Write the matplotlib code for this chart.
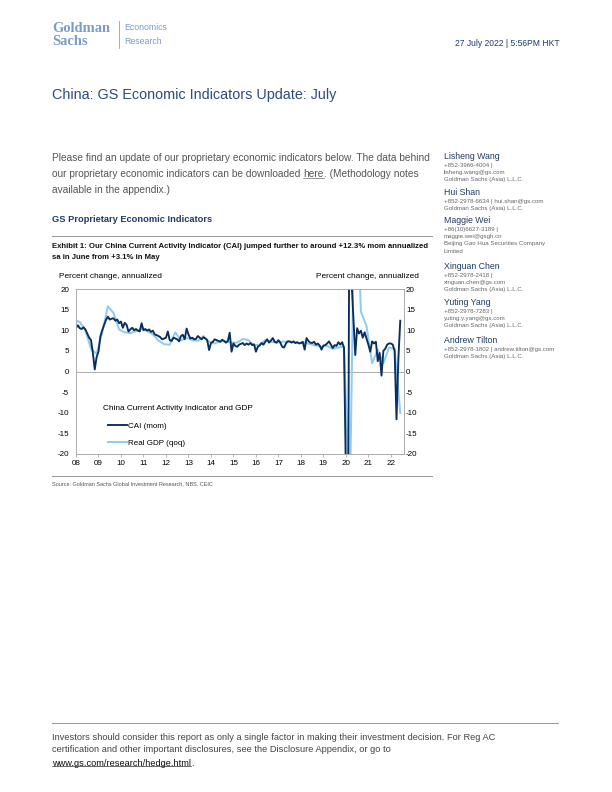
import numpy as np
import matplotlib
matplotlib.use('Agg')
import matplotlib.pyplot as plt

# CAI, monthly, percent change annualized (Jan 2008 - Jun 2022)
cai_2008 = [10.6, 11.2, 10.5, 10.3, 10.7, 10.2, 9.2, 8.2, 7.6, 4.5, 0.5, 3.5]
cai_2009 = [4.8, 8.5, 10.0, 11.3, 12.5, 13.3, 12.6, 12.8, 12.9, 12.3, 12.6, 11.7]
cai_2010 = [12.1, 10.6, 11.8, 11.3, 9.7, 10.2, 10.6, 10.0, 10.3, 9.9, 9.7, 11.7]
cai_2011 = [10.0, 10.3, 9.9, 10.2, 9.6, 9.9, 9.0, 8.8, 8.6, 8.3, 7.8, 8.0]
cai_2012 = [8.2, 9.7, 7.6, 7.4, 8.2, 8.0, 7.8, 7.3, 8.6, 8.9, 7.8, 10.4]
cai_2013 = [9.0, 8.0, 8.2, 7.8, 7.9, 8.6, 8.2, 7.8, 8.3, 8.0, 7.6, 5.2]
cai_2014 = [6.9, 7.2, 7.8, 7.6, 7.4, 7.2, 7.7, 7.4, 7.0, 7.4, 9.4, 4.8]
cai_2015 = [6.8, 6.2, 6.0, 6.5, 6.7, 6.9, 6.4, 6.8, 6.5, 6.9, 6.4, 6.6]
cai_2016 = [4.8, 6.0, 6.3, 6.9, 6.5, 7.2, 7.8, 7.0, 7.5, 8.1, 7.2, 7.0]
cai_2017 = [7.6, 7.0, 6.0, 5.8, 6.8, 7.3, 7.3, 7.0, 7.3, 6.9, 7.1, 6.8]
cai_2018 = [6.9, 7.2, 5.3, 8.1, 7.4, 7.0, 6.9, 7.2, 6.5, 6.8, 6.3, 5.3]
cai_2019 = [6.3, 6.4, 6.8, 7.3, 6.5, 5.7, 6.4, 6.2, 7.1, 6.5, 7.1, 5.7]
cai_2020 = [-25.0, -60.0, 60.0, 22.0, 13.0, 4.0, 10.5, 9.2, 9.9, 8.2, 9.5, 8.0]
cai_2021 = [6.5, 4.8, 7.3, 6.8, 7.2, 2.5, 4.5, -1.0, 5.0, 5.5, 6.5, 6.8]
cai_2022 = [6.8, 6.5, 5.0, -11.6, 3.1, 12.3]

# Real GDP, quarterly qoq annualized (Q4 2007 - Q2 2022)
gdp_2007 = [12.5]
gdp_2008 = [12.0, 10.0, 5.5, 4.3]
gdp_2009 = [9.5, 15.8, 14.2, 10.2]
gdp_2010 = [9.5, 9.3, 9.8, 10.4]
gdp_2011 = [9.8, 9.0, 7.5, 6.6]
gdp_2012 = [6.5, 9.5, 7.5, 8.2]
gdp_2013 = [7.6, 7.4, 8.6, 7.2]
gdp_2014 = [6.8, 7.4, 7.3, 7.0]
gdp_2015 = [7.0, 7.9, 7.6, 6.3]
gdp_2016 = [6.5, 7.6, 7.2, 7.0]
gdp_2017 = [7.2, 7.3, 7.1, 6.9]
gdp_2018 = [7.0, 6.6, 6.3, 6.0]
gdp_2019 = [6.2, 5.5, 5.8, 6.1]
gdp_2020 = [-35.0, 55.0, 14.5, 11.0]
gdp_2021 = [2.0, 5.3, 2.0, 5.8]
gdp_2022 = [5.5, -10.0]

years = list(range(2008, 2023))
year_labels = ['%02d' % (y % 100) for y in years]

cai = np.array(cai_2008 + cai_2009 + cai_2010 + cai_2011 + cai_2012 + cai_2013 + cai_2014
               + cai_2015 + cai_2016 + cai_2017 + cai_2018 + cai_2019 + cai_2020 + cai_2021 + cai_2022)
gdp = np.array(gdp_2007 + gdp_2008 + gdp_2009 + gdp_2010 + gdp_2011 + gdp_2012 + gdp_2013 + gdp_2014
               + gdp_2015 + gdp_2016 + gdp_2017 + gdp_2018 + gdp_2019 + gdp_2020 + gdp_2021 + gdp_2022)
cai_x = 2008 + np.arange(len(cai)) / 12.0
gdp_x = 2007 + 11 / 12.0 + np.arange(len(gdp)) * 0.25

plt.rcParams['axes.unicode_minus'] = False
SANS = ['Liberation Sans', 'DejaVu Sans']

W, H = 612, 792
fig = plt.figure(figsize=(W / 72, H / 72), dpi=72)
fig.patch.set_facecolor('white')


def txt(x, y, s, **kw):
    kw.setdefault('va', 'center')
    kw.setdefault('family', SANS)
    return fig.text(x / W, 1 - y / H, s, **kw)


def hline(x0, x1, y, color='#9A9A9A', lw=1.0):
    fig.add_artist(plt.Line2D([x0 / W, x1 / W], [1 - y / H, 1 - y / H], color=color, lw=lw))


navy = '#1F3B63'
grey_txt = '#555555'
logo_blue = '#7A9CC6'

# header
txt(52, 28, 'Goldman', family=['Liberation Serif'], weight='bold', size=14.5, color=logo_blue)
txt(52, 41.5, 'Sachs', family=['Liberation Serif'], weight='bold', size=14.5, color=logo_blue)
fig.add_artist(plt.Line2D([119 / W, 119 / W], [1 - 21 / H, 1 - 48 / H], color=logo_blue, lw=0.8))
txt(124, 28, 'Economics', size=8.7, color=logo_blue)
txt(124, 41.5, 'Research', size=8.7, color=logo_blue)
txt(560, 44, '27 July 2022 | 5:56PM HKT', size=8.5, color=navy, ha='right')

txt(52, 95, 'China: GS Economic Indicators Update: July', size=14.4, color='#2B4C7E')

# body paragraph
body_kw = dict(family=SANS, size=10.1, color=grey_txt)
txt(52, 158, 'Please find an update of our proprietary economic indicators below. The data behind', **body_kw)
t1 = txt(52, 174, 'our proprietary economic indicators can be downloaded ', **body_kw)
txt(52, 190, 'available in the appendix.)', **body_kw)

fig.canvas.draw()
r = fig.canvas.get_renderer()
bb = t1.get_window_extent(r)
t2 = fig.text(bb.x1 / W, 1 - 174 / H, 'here', va='center', **body_kw)
bb2 = t2.get_window_extent(r)
fig.add_artist(plt.Line2D([bb2.x0 / W, bb2.x1 / W], [(bb2.y0 + 1.5) / H] * 2, color=grey_txt, lw=0.6))
fig.text(bb2.x1 / W, 1 - 174 / H, '. (Methodology notes', va='center', **body_kw)

txt(52, 219, 'GS Proprietary Economic Indicators', weight='bold', size=9.3, color=navy)
hline(52, 432, 236)
cap_kw = dict(weight='bold', size=7.8, color='#111111')
txt(52, 246, 'Exhibit 1: Our China Current Activity Indicator (CAI) jumped further to around +12.3% mom annualized', **cap_kw)
txt(52, 257.5, 'sa in June from +3.1% in May', **cap_kw)

# chart
ax = fig.add_axes([76 / W, 1 - 454 / H, 328 / W, 165 / H])
l_gdp, = ax.plot(gdp_x, gdp, color='#8FCBF5', lw=2.0, solid_joinstyle='round')
l_cai, = ax.plot(cai_x, cai, color='#0A2F5C', lw=1.9, solid_joinstyle='round')
ax.set_xlim(2008, 2022 + 7 / 12.0)
ax.set_ylim(-20, 20)
ax.axhline(0, color='#A6A6A6', lw=0.9, zorder=0)
for s in ax.spines.values():
    s.set_color('#A6A6A6')
    s.set_linewidth(0.9)
ax.set_xticks(years)
ax.set_xticklabels(year_labels)
ax.set_yticks(np.arange(-20, 21, 5))
ax.tick_params(axis='x', direction='out', length=3, color='#A6A6A6', labelsize=8, pad=3)
ax.tick_params(axis='y', length=0, labelsize=8, pad=7)
for lab in ax.get_xticklabels() + ax.get_yticklabels():
    lab.set_family(SANS)

ax2 = ax.twinx()
ax2.set_ylim(-20, 20)
ax2.set_yticks(np.arange(-20, 21, 5))
ax2.tick_params(axis='y', length=0, labelsize=8, pad=2)
for s in ax2.spines.values():
    s.set_visible(False)
for lab in ax2.get_yticklabels():
    lab.set_family(SANS)

ax.text((103 - 76) / 328, (454 - 408) / 165, 'China Current Activity Indicator and GDP',
        transform=ax.transAxes, va='center', ha='left', size=8.2, family=SANS)
leg = ax.legend([l_cai, l_gdp], ['CAI (mom)', 'Real GDP (qoq)'], loc='upper left',
                bbox_to_anchor=((108 - 76) / 328, (454 - 422) / 165), frameon=False, fontsize=8,
                handlelength=2.4, handletextpad=0.15, labelspacing=1.25, borderpad=0,
                borderaxespad=0)
for t in leg.get_texts():
    t.set_family(SANS)

txt(59, 276, 'Percent change, annualized', size=8.2)
txt(419, 276, 'Percent change, annualized', size=8.2, ha='right')

hline(52, 432, 476)
txt(52, 484, 'Source: Goldman Sachs Global Investment Research, NBS, CEIC', size=5.5, color=grey_txt)

# sidebar contacts
contacts = [
    (157, 'Lisheng Wang', ['+852-3966-4004 |', 'lisheng.wang@gs.com', 'Goldman Sachs (Asia) L.L.C.']),
    (193, 'Hui Shan', ['+852-2978-6634 | hui.shan@gs.com', 'Goldman Sachs (Asia) L.L.C.']),
    (221, 'Maggie Wei', ['+86(10)6627-3189 |', 'maggie.wei@gsgh.cn', 'Beijing Gao Hua Securities Company', 'Limited']),
    (267, 'Xinguan Chen', ['+852-2978-2418 |', 'xinguan.chen@gs.com', 'Goldman Sachs (Asia) L.L.C.']),
    (303, 'Yuting Yang', ['+852-2978-7283 |', 'yuting.y.yang@gs.com', 'Goldman Sachs (Asia) L.L.C.']),
    (341, 'Andrew Tilton', ['+852-2978-1802 | andrew.tilton@gs.com', 'Goldman Sachs (Asia) L.L.C.']),
]
for y0, name, lines in contacts:
    txt(444, y0 - 0.5, name, size=8.8, color=navy)
    for i, ln in enumerate(lines):
        txt(444, y0 + 8.2 + 7.3 * i, ln, size=6.1, color='#666666')

# footer
hline(52, 558, 723)
foot_kw = dict(family=SANS, size=9.2, color='#444444')
txt(52, 737, 'Investors should consider this report as only a single factor in making their investment decision. For Reg AC', **foot_kw)
txt(52, 750, 'certification and other important disclosures, see the Disclosure Appendix, or go to', **foot_kw)
fig.canvas.draw()
t3 = txt(52, 763, 'www.gs.com/research/hedge.html', size=9.2, color='#111111')
bb3 = t3.get_window_extent(fig.canvas.get_renderer())
fig.add_artist(plt.Line2D([bb3.x0 / W, bb3.x1 / W], [(bb3.y0 + 1.5) / H] * 2, color='#111111', lw=0.6))
fig.text(bb3.x1 / W, 1 - 763 / H, '.', va='center', **foot_kw)

fig.savefig('out.png', dpi=72)
